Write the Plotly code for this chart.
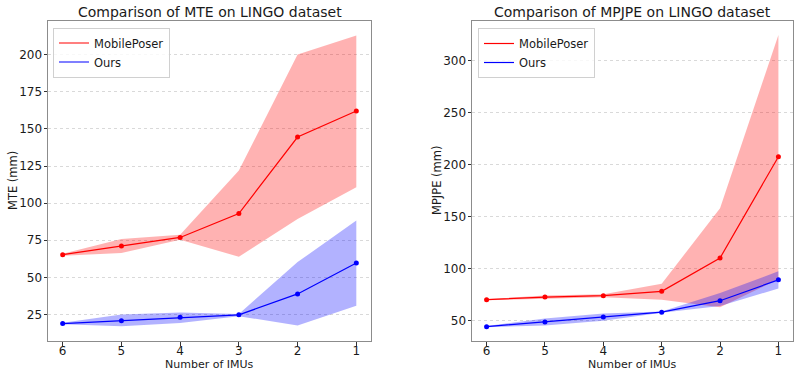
import plotly.graph_objects as go

imus = [6, 5, 4, 3, 2, 1]

# MTE (left)
mte_mp_mean = [65.3, 71.1, 76.9, 93.0, 144.5, 162.0]
mte_mp_upper = [66.0, 75.8, 78.7, 121.9, 200.0, 212.8]
mte_mp_lower = [64.5, 66.4, 75.3, 63.9, 89.4, 110.7]
mte_our_mean = [18.9, 20.9, 23.2, 24.8, 38.9, 59.7]
mte_our_upper = [19.5, 25.0, 26.3, 25.4, 60.3, 88.3]
mte_our_lower = [18.5, 17.1, 19.4, 23.9, 17.6, 31.0]

# MPJPE (right)
mpjpe_mp_mean = [70.2, 72.7, 74.0, 78.2, 110.2, 207.5]
mpjpe_mp_upper = [70.6, 74.3, 75.3, 85.5, 157.9, 324.3]
mpjpe_mp_lower = [69.6, 71.1, 72.4, 70.2, 63.0, 89.7]
mpjpe_our_mean = [44.3, 48.7, 53.6, 58.2, 69.2, 89.2]
mpjpe_our_upper = [44.8, 52.0, 57.0, 58.8, 76.5, 97.5]
mpjpe_our_lower = [43.8, 45.5, 50.0, 57.6, 64.0, 81.0]

RED = "#ff0000"
BLUE = "#0000ff"
FONT = "DejaVu Sans"
TXT = "#1a1a1a"

fig = go.Figure()

def add_panel(xa, ya, legend, mp_mean, mp_up, mp_lo, our_mean, our_up, our_lo):
    fig.add_trace(go.Scatter(x=imus + imus[::-1], y=mp_up + mp_lo[::-1], fill="toself",
                             fillcolor="rgba(255,0,0,0.3)", line=dict(width=0),
                             mode="lines", showlegend=False, hoverinfo="skip",
                             xaxis=xa, yaxis=ya))
    fig.add_trace(go.Scatter(x=imus + imus[::-1], y=our_up + our_lo[::-1], fill="toself",
                             fillcolor="rgba(0,0,255,0.3)", line=dict(width=0),
                             mode="lines", showlegend=False, hoverinfo="skip",
                             xaxis=xa, yaxis=ya))
    for name, mean, col in (("MobilePoser", mp_mean, RED), ("Ours", our_mean, BLUE)):
        fig.add_trace(go.Scatter(x=imus, y=mean, mode="lines", name=name,
                                 line=dict(color=col, width=1.2),
                                 xaxis=xa, yaxis=ya, legend=legend))
        fig.add_trace(go.Scatter(x=imus, y=mean, mode="markers", showlegend=False,
                                 marker=dict(size=5, color=col),
                                 xaxis=xa, yaxis=ya))

add_panel("x", "y", "legend", mte_mp_mean, mte_mp_upper, mte_mp_lower,
          mte_our_mean, mte_our_upper, mte_our_lower)
add_panel("x2", "y2", "legend2", mpjpe_mp_mean, mpjpe_mp_upper, mpjpe_mp_lower,
          mpjpe_our_mean, mpjpe_our_upper, mpjpe_our_lower)

W, H = 794, 371
def py(px):
    return (H - px) / H
y_dom = [py(341), py(21)]
xd1 = [48 / W, 371 / W]
xd2 = [472 / W, 793 / W]

axis_common = dict(showline=True, mirror=True, linecolor="#8c8c8c", linewidth=1,
                   ticks="outside", ticklen=3.5, tickcolor="#333", tickwidth=1,
                   tickfont=dict(family=FONT, size=12, color=TXT), zeroline=False,
                   automargin=False)

xaxis_common = dict(axis_common, tickmode="array", tickvals=imus, ticktext=[str(v) for v in imus],
                    range=[6.25, 0.75], showgrid=False, ticklabelstandoff=-5)

grid = dict(showgrid=True, gridcolor="#d9d9d9", griddash="dot", gridwidth=1)

def ann(text, x, y, size, angle=0):
    return dict(text=text, x=x, y=y, xref="paper", yref="paper", xanchor="center",
                yanchor="middle", showarrow=False, textangle=angle,
                font=dict(family=FONT, size=size, color=TXT))

legend_common = dict(xanchor="left", yanchor="top", bgcolor="rgba(255,255,255,0.8)",
                     bordercolor="#d0d0d0", borderwidth=1,
                     font=dict(family=FONT, size=11.5, color=TXT), itemwidth=30,
                     tracegroupgap=0)

fig.update_layout(
    width=W, height=H, margin=dict(l=0, r=0, t=0, b=0),
    paper_bgcolor="white", plot_bgcolor="white",
    font=dict(family=FONT, size=11.5, color=TXT),
    xaxis=dict(xaxis_common, domain=xd1, anchor="y"),
    xaxis2=dict(xaxis_common, domain=xd2, anchor="y2"),
    yaxis=dict(axis_common, domain=y_dom, anchor="x", range=[7.2, 222.6],
               tickvals=[25, 50, 75, 100, 125, 150, 175, 200], ticklabelstandoff=-1, **grid),
    yaxis2=dict(axis_common, domain=y_dom, anchor="x2", range=[30.5, 337.8],
                tickvals=[50, 100, 150, 200, 250, 300], ticklabelstandoff=-1, **grid),
    legend=dict(legend_common, x=53 / W, y=py(27.5)),
    legend2=dict(legend_common, x=478 / W, y=py(28)),
    annotations=[
        ann("Comparison of MTE on LINGO dataset", (xd1[0] + xd1[1]) / 2, py(12.5), 14),
        ann("Comparison of MPJPE on LINGO dataset", (xd2[0] + xd2[1]) / 2, py(12.5), 14),
        ann("Number of IMUs", (xd1[0] + xd1[1]) / 2, py(364), 11),
        ann("Number of IMUs", (xd2[0] + xd2[1]) / 2, py(364), 11),
        ann("MTE (mm)", 13 / W, py(181), 11.5, -90),
        ann("MPJPE (mm)", 437 / W, py(181), 11.5, -90),
    ],
)

fig.write_html("out.html", config={"displayModeBar": False},
               post_script="document.body.style.margin='0';document.body.style.padding='0';"
                           "document.body.style.overflow='hidden';")
